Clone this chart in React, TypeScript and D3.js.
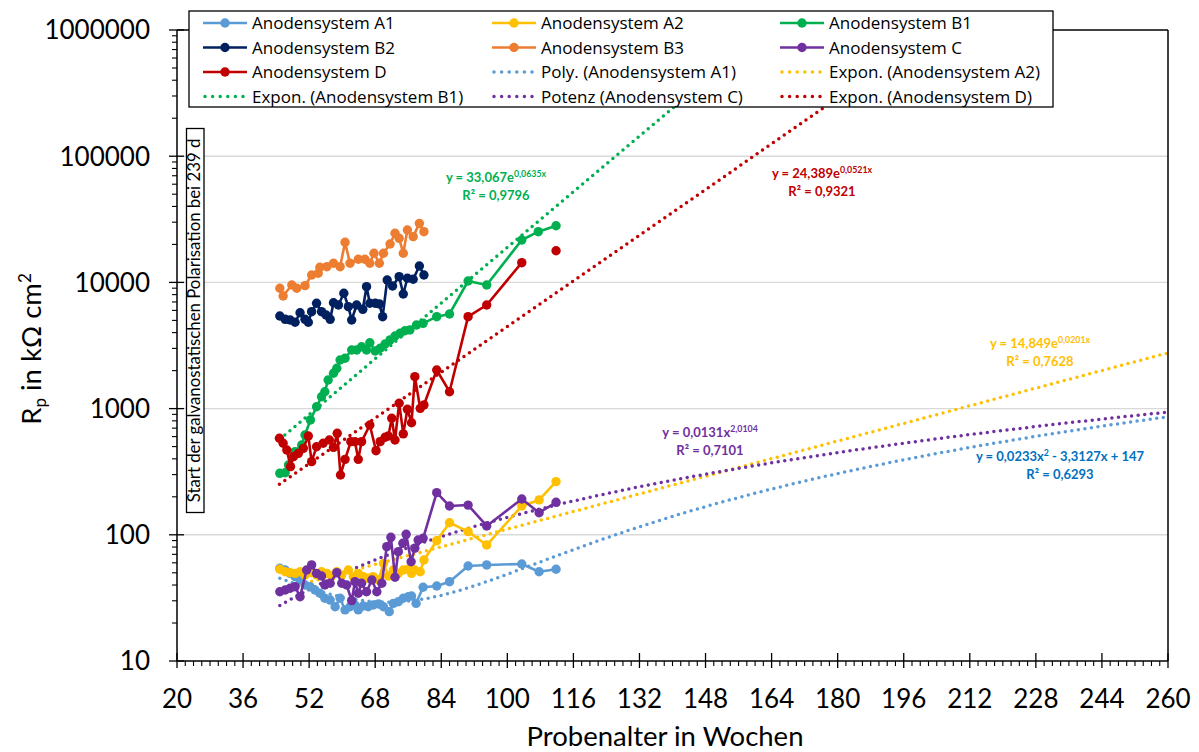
import React from 'react';
import * as d3 from 'd3';

// ---------- data ----------
const X_TICKS = [20, 36, 52, 68, 84, 100, 116, 132, 148, 164, 180, 196, 212, 228, 244, 260];
const Y_TICKS = [10, 100, 1000, 10000, 100000, 1000000];

const A1_W = [44.9, 46.2, 47.4, 48.6, 49.8, 51.0, 52.2, 53.4, 54.6, 55.8, 57.1, 58.3, 59.5, 60.7, 61.9, 63.1, 63.9, 65.1, 66.3, 67.5, 68.8, 70.0, 71.4, 72.4, 73.6, 74.8, 76.0, 76.8, 77.9, 79.6, 82.9, 86.0, 90.5, 95.0, 103.5, 107.7, 111.8];
const A1_R = [54.3, 52.6, 49.5, 46.6, 43.8, 40.0, 38.8, 36.5, 34.4, 31.4, 30.4, 26.9, 31.4, 25.4, 26.9, 27.8, 25.4, 27.3, 26.9, 27.8, 28.3, 26.9, 24.6, 28.6, 29.5, 31.4, 32.3, 32.7, 28.6, 38.4, 39.3, 42.5, 56.6, 57.7, 58.7, 51.0, 53.3];

const A2_W = [44.9, 46.2, 47.4, 48.6, 49.8, 51.0, 52.6, 53.8, 55.0, 56.3, 57.5, 58.7, 59.9, 61.5, 62.7, 63.9, 65.1, 66.3, 67.5, 68.8, 70.0, 71.2, 72.4, 73.6, 74.8, 76.0, 76.8, 77.6, 78.9, 79.8, 82.9, 86.0, 90.5, 95.0, 103.5, 107.7, 111.8];
const A2_R = [53.3, 51.0, 50.1, 49.5, 51.0, 48.0, 50.1, 48.0, 51.0, 49.5, 47.2, 51.0, 48.0, 52.6, 46.6, 49.5, 46.6, 45.2, 46.6, 43.8, 59.4, 47.2, 52.6, 49.5, 52.6, 53.3, 49.5, 52.6, 51.0, 63.1, 89.8, 124.7, 105.9, 83.0, 169, 189, 264];

const B1_W = [44.9, 46.2, 47.0, 48.6, 50.2, 51.0, 52.3, 53.8, 55.0, 55.8, 56.6, 57.9, 58.7, 59.5, 60.7, 62.3, 63.5, 64.7, 65.9, 66.7, 68.0, 69.2, 70.4, 71.6, 72.8, 74.0, 75.2, 76.4, 78.0, 79.6, 82.9, 86.0, 90.5, 95.0, 103.5, 107.5, 111.8];
const B1_R = [307, 310, 357, 456, 515, 618, 813, 1035, 1242, 1361, 1686, 1905, 2086, 2428, 2505, 2912, 2912, 3092, 2912, 3327, 2860, 3006, 3250, 3500, 3760, 3950, 4140, 4200, 4600, 4740, 5350, 5620, 10260, 9530, 21680, 25230, 28130];

const B2_W = [44.9, 46.2, 47.4, 48.6, 49.8, 51.0, 51.8, 52.6, 53.8, 55.0, 56.1, 57.1, 57.9, 59.1, 60.4, 61.5, 62.3, 63.5, 65.0, 65.9, 66.7, 68.0, 69.0, 69.8, 70.9, 72.2, 73.8, 74.8, 75.8, 77.2, 78.7, 79.8];
const B2_R = [5420, 5100, 5040, 4830, 5750, 5100, 4830, 5860, 6830, 5860, 5520, 5100, 6900, 6620, 8200, 6420, 5040, 6620, 6120, 9250, 6830, 6830, 6750, 5350, 10450, 9360, 11100, 8090, 10790, 10590, 13490, 11450];

const B3_W = [44.9, 45.7, 47.8, 49.0, 51.0, 52.6, 54.2, 54.6, 56.3, 57.9, 59.5, 60.7, 61.9, 63.9, 65.5, 66.7, 67.7, 69.0, 70.0, 71.6, 72.8, 73.8, 74.8, 75.8, 77.2, 78.7, 79.8];
const B3_R = [8980, 7800, 9530, 8980, 9420, 11450, 11810, 13180, 13320, 14180, 13320, 20790, 14180, 15250, 15250, 14180, 17020, 14180, 17020, 20150, 24500, 22350, 17020, 26020, 23040, 29380, 25230];

const C_W = [44.9, 46.2, 47.4, 48.6, 49.8, 51.4, 52.6, 53.8, 55.0, 55.8, 57.1, 58.7, 59.9, 61.1, 62.3, 63.1, 63.9, 64.7, 65.9, 67.2, 68.4, 69.6, 70.8, 71.8, 72.8, 73.6, 74.7, 75.5, 76.7, 77.6, 78.4, 79.6, 82.9, 86.0, 90.5, 95.0, 103.5, 107.7, 111.8];
const C_R = [35.4, 36.5, 37.7, 38.8, 32.3, 52.6, 57.7, 49.5, 47.2, 40.0, 41.3, 50.1, 41.3, 40.0, 30.1, 42.5, 34.4, 41.3, 35.4, 43.8, 35.4, 41.3, 80.5, 95.5, 46.1, 73.5, 85.7, 100.9, 61.2, 78.2, 91.0, 93.8, 215.8, 169, 172, 117.5, 192, 149.6, 180.9];

const D_W = [44.8, 45.7, 46.6, 47.5, 48.2, 49.4, 50.6, 51.8, 52.6, 53.8, 55.4, 56.9, 57.9, 58.8, 59.6, 60.7, 62.1, 63.1, 63.9, 64.7, 66.7, 68.2, 69.2, 70.4, 71.2, 72.0, 72.8, 73.8, 74.8, 75.8, 76.8, 77.6, 78.9, 79.8, 82.9, 86.0, 90.5, 95.0, 103.5, 107.6, 111.8];
const D_R: (number | null)[] = [582, 531, 470, 347, 416, 442, 484, 607, 380, 499, 531, 564, 493, 637, 298, 396, 547, 547, 396, 547, 741, 464, 547, 593, 607, 838, 564, 1102, 630, 987, 773, 1791, 1005, 1069, 2023, 1361, 5350, 6620, 14330, null, 17830];

// trendline coefficients (as shown in the chart)
const TREND_A1 = [0.0233, -3.3127, 147]; // poly: a x^2 + b x + c
const TREND_A2 = [14.849, 0.0201]; // expon: a e^(b x)
const TREND_B1 = [33.067, 0.0635];
const TREND_C = [0.0131, 2.0104]; // power: a x^b
const TREND_D = [24.389, 0.0521];

const COLORS = {
  A1: '#5B9BD5', A2: '#FFC000', B1: '#00B050', B2: '#002060', B3: '#ED7D31', C: '#7030A0', D: '#C00000', A1eq: '#0070C0',
};

const SERIES = [
  { key: 'A1', name: 'Anodensystem A1', w: A1_W, r: A1_R as (number | null)[], color: COLORS.A1 },
  { key: 'A2', name: 'Anodensystem A2', w: A2_W, r: A2_R as (number | null)[], color: COLORS.A2 },
  { key: 'B1', name: 'Anodensystem B1', w: B1_W, r: B1_R as (number | null)[], color: COLORS.B1 },
  { key: 'B2', name: 'Anodensystem B2', w: B2_W, r: B2_R as (number | null)[], color: COLORS.B2 },
  { key: 'B3', name: 'Anodensystem B3', w: B3_W, r: B3_R as (number | null)[], color: COLORS.B3 },
  { key: 'C', name: 'Anodensystem C', w: C_W, r: C_R as (number | null)[], color: COLORS.C },
  { key: 'D', name: 'Anodensystem D', w: D_W, r: D_R, color: COLORS.D },
];

const TRENDS = [
  { name: 'Poly. (Anodensystem A1)', color: COLORS.A1, x0: A1_W[0], f: (x: number) => TREND_A1[0] * x * x + TREND_A1[1] * x + TREND_A1[2] },
  { name: 'Expon. (Anodensystem A2)', color: COLORS.A2, x0: A2_W[0], f: (x: number) => TREND_A2[0] * Math.exp(TREND_A2[1] * x) },
  { name: 'Expon. (Anodensystem B1)', color: COLORS.B1, x0: B1_W[0], f: (x: number) => TREND_B1[0] * Math.exp(TREND_B1[1] * x) },
  { name: 'Potenz (Anodensystem C)', color: COLORS.C, x0: C_W[0], f: (x: number) => TREND_C[0] * Math.pow(x, TREND_C[1]) },
  { name: 'Expon. (Anodensystem D)', color: COLORS.D, x0: D_W[0], f: (x: number) => TREND_D[0] * Math.exp(TREND_D[1] * x) },
];

const LEGEND_ITEMS = [
  { label: 'Anodensystem A1', color: COLORS.A1, dotted: false },
  { label: 'Anodensystem A2', color: COLORS.A2, dotted: false },
  { label: 'Anodensystem B1', color: COLORS.B1, dotted: false },
  { label: 'Anodensystem B2', color: COLORS.B2, dotted: false },
  { label: 'Anodensystem B3', color: COLORS.B3, dotted: false },
  { label: 'Anodensystem C', color: COLORS.C, dotted: false },
  { label: 'Anodensystem D', color: COLORS.D, dotted: false },
  { label: 'Poly. (Anodensystem A1)', color: COLORS.A1, dotted: true },
  { label: 'Expon. (Anodensystem A2)', color: COLORS.A2, dotted: true },
  { label: 'Expon. (Anodensystem B1)', color: COLORS.B1, dotted: true },
  { label: 'Potenz (Anodensystem C)', color: COLORS.C, dotted: true },
  { label: 'Expon. (Anodensystem D)', color: COLORS.D, dotted: true },
];

const EQUATIONS = [
  { color: COLORS.B1, cx: 496, cy: 177, base: 'y = 33,067e', sup: '0,0635x', r2: 'R² = 0,9796' },
  { color: COLORS.D, cx: 822, cy: 173, base: 'y = 24,389e', sup: '0,0521x', r2: 'R² = 0,9321' },
  { color: COLORS.A2, cx: 1040, cy: 343, base: 'y = 14,849e', sup: '0,0201x', r2: 'R² = 0,7628' },
  { color: COLORS.C, cx: 710, cy: 432, base: 'y = 0,0131x', sup: '2,0104', r2: 'R² = 0,7101' },
  { color: COLORS.A1eq, cx: 1060, cy: 456, base: 'y = 0,0233x', sup: '2', tail: ' - 3,3127x + 147', r2: 'R² = 0,6293' },
];

const FONT = 'Lato, "Open Sans", sans-serif';
const LEGEND_FONT = '"Open Sans", "Noto Sans", sans-serif';

export default function App() {
  const W = 1199, H = 752;
  const L = 177, R = 1168, T = 30, B = 661;
  const x = d3.scaleLinear().domain([20, 260]).range([L, R]);
  const y = d3.scaleLog().domain([10, 1e6]).range([B, T]);

  const line = d3.line<[number, number | null]>()
    .defined((d) => d[1] != null)
    .x((d) => x(d[0]))
    .y((d) => y(d[1] as number));

  const trendLine = d3.line<[number, number]>().x((d) => x(d[0])).y((d) => y(Math.max(1, d[1])));

  const minorX = d3.range(20, 261, 2).filter((v) => (v - 20) % 16 !== 0);
  const minorY: number[] = [];
  for (let e = 1; e < 6; e++) for (let m = 2; m <= 9; m++) minorY.push(m * Math.pow(10, e));

  const legendCols = [203, 492, 780];
  const legendRows = [23, 47.5, 72, 96.5];

  return (
    <svg width={W} height={H} style={{ position: 'absolute', left: 0, top: 0, background: '#fff' }} fontFamily={FONT}>
      <defs>
        <clipPath id="plot">
          <rect x={L} y={T} width={R - L} height={B - T} />
        </clipPath>
      </defs>
      <rect x={0} y={0} width={W} height={H} fill="#fff" />

      {/* gridlines */}
      {Y_TICKS.filter((v) => v > 10 && v < 1e6).map((v) => (
        <line key={'g' + v} x1={L} x2={R} y1={y(v)} y2={y(v)} stroke="#D9D9D9" strokeWidth={1.4} />
      ))}

      {/* vertical annotation box */}
      <rect x={186.5} y={128.5} width={17.5} height={384} fill="#fff" stroke="#000" strokeWidth={1.3} />
      <text x={0} y={0} transform={`translate(${200},${320.5}) rotate(-90)`} textAnchor="middle" fontSize={16.8} fill="#000">
        Start der galvanostatischen Polarisation bei 239 d
      </text>

      {/* trendlines */}
      <g clipPath="url(#plot)">
        {TRENDS.map((t) => {
          const pts: [number, number][] = d3.range(t.x0, 260.001, 0.25).map((v) => [v, t.f(v)] as [number, number]);
          return (
            <path key={t.name} d={trendLine(pts) || ''} fill="none" stroke={t.color} strokeWidth={3.5}
              strokeDasharray="0 6.6" strokeLinecap="round" />
          );
        })}
      </g>

      {/* series */}
      <g clipPath="url(#plot)">
        {SERIES.map((s) => {
          const data = s.w.map((w, i) => [w, s.r[i]] as [number, number | null]);
          return (
            <g key={s.key}>
              <path d={line(data) || ''} fill="none" stroke={s.color} strokeWidth={2.6} strokeLinejoin="round" />
              {data.filter((d) => d[1] != null).map((d, i) => (
                <circle key={i} cx={x(d[0])} cy={y(d[1] as number)} r={4.7} fill={s.color} />
              ))}
            </g>
          );
        })}
      </g>

      {/* equations */}
      {EQUATIONS.map((e, i) => (
        <g key={i} fill={e.color} fontWeight="bold" fontSize={13} textAnchor="middle">
          <text x={e.cx} y={e.cy + 4.5}>
            {e.base}
            <tspan fontSize={8.8} dy={-5}>{e.sup}</tspan>
            {e.tail ? <tspan dy={5}>{e.tail}</tspan> : null}
          </text>
          <text x={e.cx} y={e.cy + 22.5}>{e.r2}</text>
        </g>
      ))}

      {/* plot border */}
      <line x1={L} x2={R} y1={T} y2={T} stroke="#000" strokeWidth={1.5} />
      <line x1={R} x2={R} y1={T} y2={B} stroke="#000" strokeWidth={1.5} />

      {/* axes */}
      <line x1={L} x2={R} y1={B} y2={B} stroke="#000" strokeWidth={1.5} />
      <line x1={L} x2={L} y1={T} y2={B} stroke="#000" strokeWidth={1.5} />
      {X_TICKS.map((v) => (
        <g key={'xt' + v}>
          <line x1={x(v)} x2={x(v)} y1={B - 8} y2={B + 7} stroke="#000" strokeWidth={1.3} />
          <text x={x(v)} y={708} textAnchor="middle" fontSize={26} fill="#000">{v}</text>
        </g>
      ))}
      {minorX.map((v) => (
        <line key={'xm' + v} x1={x(v)} x2={x(v)} y1={B} y2={B + 5} stroke="#000" strokeWidth={1.1} />
      ))}
      {Y_TICKS.map((v) => (
        <g key={'yt' + v}>
          <line x1={L - 8} x2={L + 7} y1={y(v)} y2={y(v)} stroke="#000" strokeWidth={1.3} />
          <text x={150} y={y(v)} dy="0.36em" textAnchor="end" fontSize={26} fill="#000">{v}</text>
        </g>
      ))}
      {minorY.map((v) => (
        <line key={'ym' + v} x1={L - 5} x2={L} y1={y(v)} y2={y(v)} stroke="#000" strokeWidth={1.1} />
      ))}

      {/* axis titles */}
      <text x={665} y={746} textAnchor="middle" fontSize={27.5} fill="#000">Probenalter in Wochen</text>
      <text transform={`translate(${41},${349}) rotate(-90)`} textAnchor="middle" fontSize={27.5} fill="#000">
        R<tspan fontSize={17} dy={5}>p</tspan><tspan dy={-5}> in kΩ cm</tspan><tspan fontSize={17} dy={-10}>2</tspan>
      </text>

      {/* legend */}
      <rect x={189} y={11} width={864} height={96} fill="#fff" stroke="#000" strokeWidth={1.3} />
      {LEGEND_ITEMS.map((it, i) => {
        const cx = legendCols[i % 3];
        const cy = legendRows[Math.floor(i / 3)];
        return (
          <g key={it.label}>
            {it.dotted ? (
              <line x1={cx + 2} x2={cx + 42} y1={cy} y2={cy} stroke={it.color} strokeWidth={3.5}
                strokeDasharray="0 7.6" strokeLinecap="round" />
            ) : (
              <g>
                <line x1={cx} x2={cx + 44} y1={cy} y2={cy} stroke={it.color} strokeWidth={2.6} />
                <circle cx={cx + 22} cy={cy} r={4.7} fill={it.color} />
              </g>
            )}
            <text x={cx + 49} y={cy} dy="0.36em" fontSize={17} fontFamily={LEGEND_FONT} fill="#000">{it.label}</text>
          </g>
        );
      })}
    </svg>
  );
}
